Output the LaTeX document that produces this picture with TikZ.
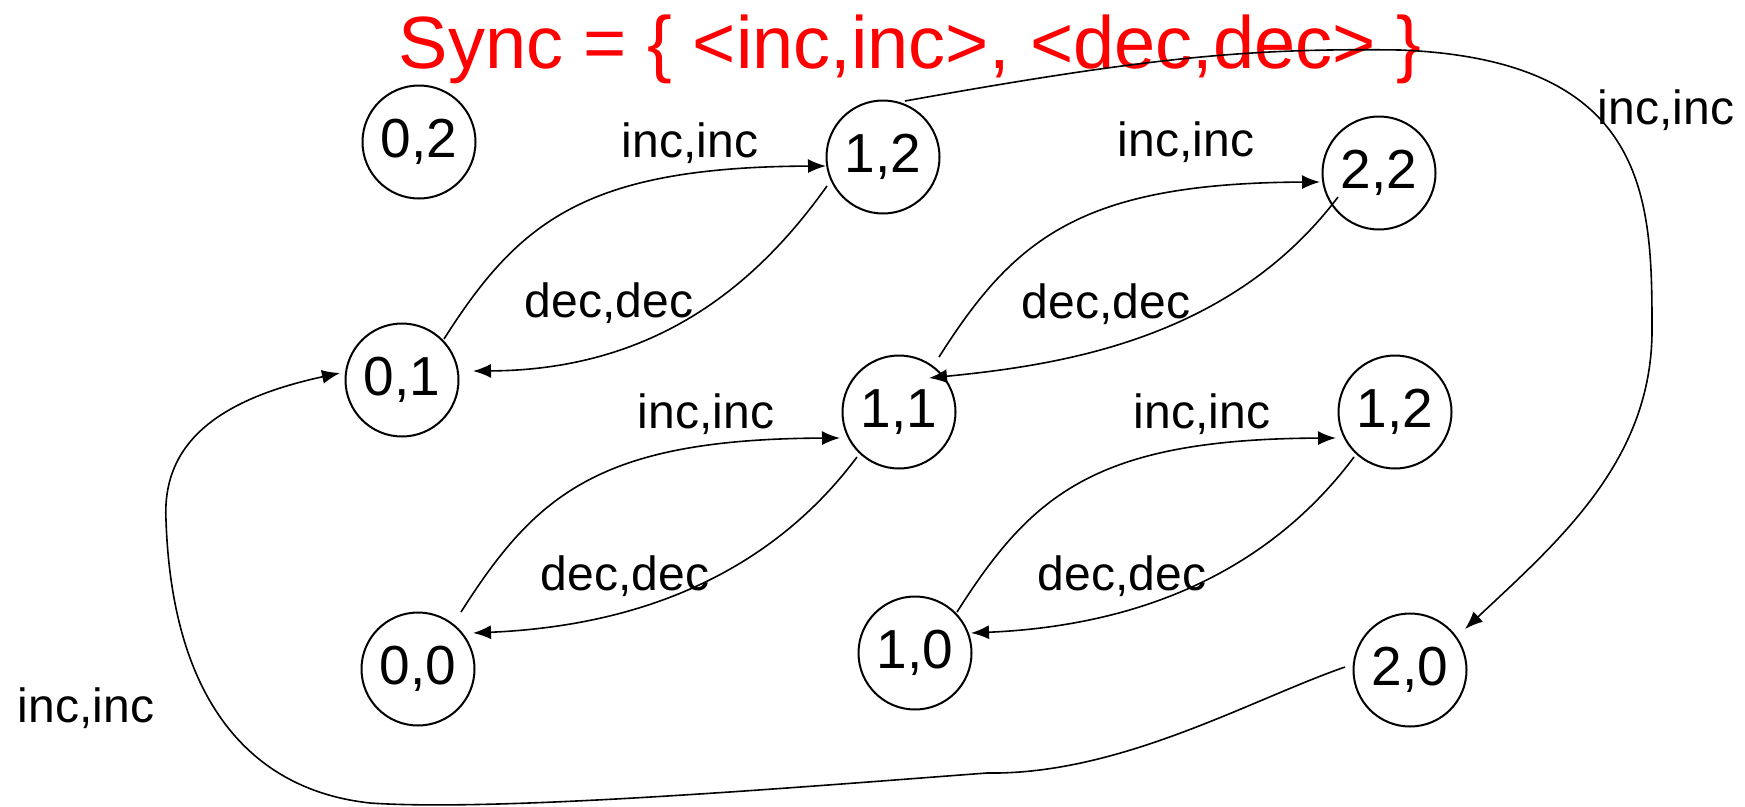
\documentclass[tikz,border=0pt]{standalone}
\usepackage{fontspec}
\setmainfont{Liberation Sans}
\usetikzlibrary{arrows.meta,calc}
\begin{document}
\begin{tikzpicture}[x=1pt,y=-1pt,
  state/.style={circle,draw,line width=2pt,minimum size=113pt,inner sep=0pt,font=\fontsize{55}{66}\selectfont},
  lbl/.style={font=\fontsize{48}{58}\selectfont,anchor=base,inner sep=0pt},
  trans/.style={line width=1.6pt,-{Latex[length=18pt,width=14pt]}}
]
\useasboundingbox (0,0) rectangle (1745,806);
% title
\node[font=\fontsize{74}{88}\selectfont,text=red,anchor=base,inner sep=0pt] (title) at (910,68) {Sync = \{ <inc,inc>, <dec,dec> \}};
% states
\node[state] (n02) at (419,142) {0,2};
\node[state] (n12) at (883,157) {1,2};
\node[state] (n22) at (1379,173) {2,2};
\node[state] (n01) at (402,380) {0,1};
\node[state] (n11) at (899,412) {1,1};
\node[state] (n12b) at (1395,412) {1,2};
\node[state] (n00) at (418,669) {0,0};
\node[state] (n10) at (915,653) {1,0};
\node[state] (n20) at (1410,670) {2,0};
% inc edges
\draw[trans] ($(n01)+(42,-41)$) .. controls (519,221) and (586,167) .. ($(n12)+(-57,9)$);
\draw[trans] ($(n11)+(40,-55)$) .. controls (1014,239) and (1080,183) .. ($(n22)+(-59,9)$);
\draw[trans] ($(n00)+(43,-57)$) .. controls (536,494) and (600,439) .. ($(n11)+(-59,26)$);
\draw[trans] ($(n10)+(42,-41)$) .. controls (1032,494) and (1096,439) .. ($(n12b)+(-59,26)$);
% dec edges
\draw[trans] ($(n12)+(-56,29)$) .. controls (760,280) and (660,370) .. ($(n01)+(71,-9)$);
\draw[trans] ($(n22)+(-41,24)$) .. controls (1230,340) and (1060,365) .. ($(n11)+(30,-34)$);
\draw[trans] ($(n11)+(-42,45)$) .. controls (780,560) and (660,625) .. ($(n00)+(55,-36)$);
\draw[trans] ($(n12b)+(-41,45)$) .. controls (1277,560) and (1157,625) .. ($(n10)+(56,-20)$);
% long edges
\draw[trans] ($(n12)+(22,-56)$) .. controls (1150,57) and (1250,48) .. (1400,50)
  .. controls (1650,60) and (1652,200) .. (1652,330)
  .. controls (1652,460) and (1560,540) .. ($(n20)+(55,-41)$);
\draw[trans] ($(n20)+(-65,-3)$) .. controls (1250,700) and (1120,775) .. (987,773)
  .. controls (800,787) and (500,812) .. (370,803)
  .. controls (250,790) and (172,700) .. (166,520)
  .. controls (162,445) and (215,400) .. ($(n01)+(-62,-7)$);
% labels
\node[lbl] (la) at (690,157) {inc,inc};
\node[lbl] (lb) at (609,317) {dec,dec};
\node[lbl] (lc) at (1186,156) {inc,inc};
\node[lbl] (ld) at (1106,318) {dec,dec};
\node[lbl] (le) at (706,428) {inc,inc};
\node[lbl] (lf) at (625,590) {dec,dec};
\node[lbl] (lg) at (1202,428) {inc,inc};
\node[lbl] (lh) at (1122,590) {dec,dec};
\node[lbl] (li) at (1666,124) {inc,inc};
\node[lbl] (lj) at (86,722) {inc,inc};
\end{tikzpicture}
\end{document}
